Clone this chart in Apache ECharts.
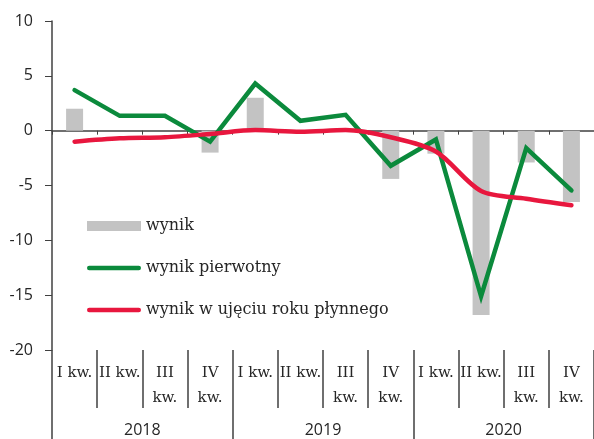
<!DOCTYPE html>
<html>
<head>
<meta charset="utf-8">
<script src="https://cdn.jsdelivr.net/npm/echarts@6/dist/echarts.min.js"></script>
<style>html,body{margin:0;padding:0;background:#fff}#c{width:594px;height:439px}</style>
</head>
<body>
<div id="c"></div>
<script>
var quarters = ['I kw.', 'II kw.', 'III\nkw.', 'IV\nkw.', 'I kw.', 'II kw.', 'III\nkw.', 'IV\nkw.', 'I kw.', 'II kw.', 'III\nkw.', 'IV\nkw.'];
var years = ['2018', '2019', '2020'];
var wynik = [2.0, 0, 0, -2.0, 3.0, 0, 0, -4.4, -2.1, -16.8, -2.9, -6.5];
var wynikPierwotny = [3.7, 1.35, 1.35, -1.0, 4.3, 0.9, 1.45, -3.2, -0.8, -15.1, -1.6, -5.45];
var wynikRoku = [-1.0, -0.7, -0.6, -0.3, 0.05, -0.1, 0.05, -0.6, -1.9, -5.5, -6.2, -6.8];
var yTicks = { min: -20, max: 10, interval: 5 };

var chart = echarts.init(document.getElementById('c'), null, { renderer: 'canvas' });
var axisColor = '#404040';
var textColor = '#262626';
var lineIcon = 'path://M0,0 L54,0 M2.25,2.75 L51.75,2.75 A2.25,2.25 0 0 1 51.75,7.25 L2.25,7.25 A2.25,2.25 0 0 1 2.25,2.75 Z M0,10 L54,10';
chart.setOption({
  animation: false,
  grid: { left: 52, top: 21, width: 546, height: 329 },
  legend: {
    orient: 'vertical', left: 87, top: 218, padding: 0,
    itemWidth: 54, itemHeight: 10, itemGap: 26,
    textStyle: { fontFamily: 'DejaVu Serif', fontSize: 16, color: textColor },
    data: [
      { name: 'wynik', icon: 'rect' },
      { name: 'wynik pierwotny', icon: lineIcon },
      { name: 'wynik w ujęciu roku płynnego', icon: lineIcon }
    ]
  },
  xAxis: [
    {
      type: 'category', data: quarters, boundaryGap: true,
      axisLine: { onZero: true, lineStyle: { color: axisColor, width: 1.5 } },
      axisTick: { show: true, length: 4, lineStyle: { color: axisColor } },
      axisLabel: { show: false }
    },
    {
      type: 'category', data: quarters, boundaryGap: true, position: 'bottom',
      axisLine: { show: false, onZero: false },
      axisTick: { show: true, length: 58, lineStyle: { color: axisColor, width: 1.5 } },
      axisLabel: { show: true, interval: 0, margin: 11, fontFamily: 'DejaVu Serif', fontSize: 15, lineHeight: 25, color: textColor, verticalAlign: 'top' }
    },
    {
      type: 'category', data: years, boundaryGap: true, position: 'bottom',
      axisLine: { show: false, onZero: false },
      axisTick: { show: true, length: 90, lineStyle: { color: axisColor, width: 1.5 } },
      axisLabel: { show: true, interval: 0, margin: 72, fontFamily: 'Open Sans', fontSize: 16, lineHeight: 16, color: textColor, verticalAlign: 'top' }
    }
  ],
  yAxis: {
    type: 'value', min: yTicks.min, max: yTicks.max, interval: yTicks.interval,
    splitLine: { show: false },
    axisLine: { show: true, onZero: false, lineStyle: { color: axisColor, width: 1.5 } },
    axisTick: { show: true, length: 7, lineStyle: { color: axisColor } },
    axisLabel: { margin: 19, fontFamily: 'Open Sans', fontSize: 16, color: textColor }
  },
  series: [
    {
      name: 'wynik', type: 'bar', data: wynik, barWidth: 17, xAxisIndex: 0,
      itemStyle: { color: '#c3c3c3' }, z: 1
    },
    {
      name: 'wynik pierwotny', type: 'line', data: wynikPierwotny, xAxisIndex: 0,
      symbol: 'none', lineStyle: { color: '#0b8a3c', width: 4.5, cap: 'round', join: 'miter' },
      itemStyle: { color: '#0b8a3c' }, z: 3
    },
    {
      name: 'wynik w ujęciu roku płynnego', type: 'line', data: wynikRoku, xAxisIndex: 0,
      symbol: 'none', smooth: 0.3, lineStyle: { color: '#e8173e', width: 4.5, cap: 'round' },
      itemStyle: { color: '#e8173e' }, z: 4
    }
  ]
});
</script>
</body>
</html>
